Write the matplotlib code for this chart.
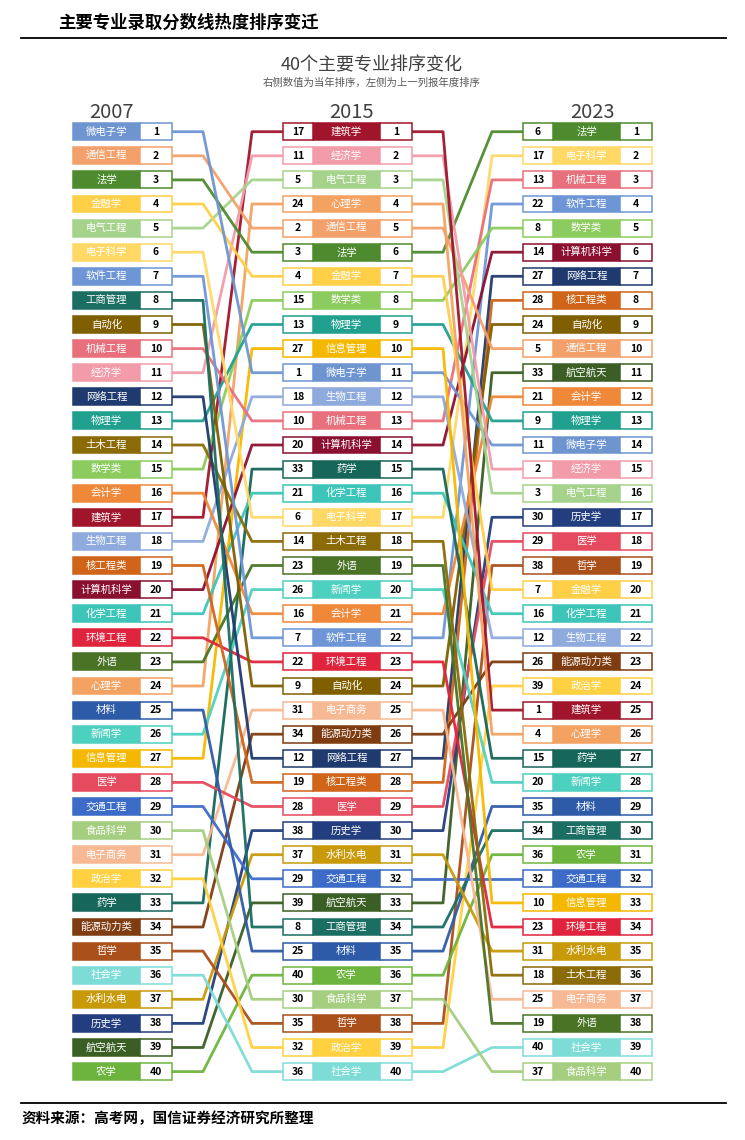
import matplotlib
matplotlib.use("Agg")
import matplotlib.pyplot as plt
from matplotlib.patches import Rectangle

plt.rcParams['font.family'] = ['Noto Sans CJK SC', 'DejaVu Sans']

years = ["2007", "2015", "2023"]

# majors listed in rank order (rank 1 first)
majors_2007 = ["微电子学", "通信工程", "法学", "金融学", "电气工程", "电子科学", "软件工程", "工商管理",
               "自动化", "机械工程", "经济学", "网络工程", "物理学", "土木工程", "数学类", "会计学",
               "建筑学", "生物工程", "核工程类", "计算机科学", "化学工程", "环境工程", "外语", "心理学",
               "材料", "新闻学", "信息管理", "医学", "交通工程", "食品科学", "电子商务", "政治学",
               "药学", "能源动力类", "哲学", "社会学", "水利水电", "历史学", "航空航天", "农学"]
majors_2015 = ["建筑学", "经济学", "电气工程", "心理学", "通信工程", "法学", "金融学", "数学类",
               "物理学", "信息管理", "微电子学", "生物工程", "机械工程", "计算机科学", "药学", "化学工程",
               "电子科学", "土木工程", "外语", "新闻学", "会计学", "软件工程", "环境工程", "自动化",
               "电子商务", "能源动力类", "网络工程", "核工程类", "医学", "历史学", "水利水电", "交通工程",
               "航空航天", "工商管理", "材料", "农学", "食品科学", "哲学", "政治学", "社会学"]
majors_2023 = ["法学", "电子科学", "机械工程", "软件工程", "数学类", "计算机科学", "网络工程", "核工程类",
               "自动化", "通信工程", "航空航天", "会计学", "物理学", "微电子学", "经济学", "电气工程",
               "历史学", "医学", "哲学", "金融学", "化学工程", "生物工程", "能源动力类", "政治学",
               "建筑学", "心理学", "药学", "新闻学", "材料", "工商管理", "农学", "交通工程",
               "信息管理", "环境工程", "水利水电", "土木工程", "电子商务", "外语", "社会学", "食品科学"]

major_colors = {
    "微电子学": "#6F95D1", "通信工程": "#F3A06A", "法学": "#4E8A2E", "金融学": "#FFCF48",
    "电气工程": "#A6D38C", "电子科学": "#FFD866", "软件工程": "#6E96D6", "工商管理": "#1B6E62",
    "自动化": "#7F5F00", "机械工程": "#E8707C", "经济学": "#F29CAA", "网络工程": "#1F3A6E",
    "物理学": "#21A090", "土木工程": "#8B6A08", "数学类": "#8CCB5E", "会计学": "#F0883A",
    "建筑学": "#A0152B", "生物工程": "#8FAADC", "核工程类": "#D0651A", "计算机科学": "#8B1030",
    "化学工程": "#3CC5B8", "环境工程": "#E0243D", "外语": "#4A7326", "心理学": "#F4A262",
    "材料": "#2E5BA8", "新闻学": "#4ED0C0", "信息管理": "#F5B800", "医学": "#E64A5E",
    "交通工程": "#3D6CC8", "食品科学": "#A5CE80", "电子商务": "#F6B993", "政治学": "#FFD040",
    "药学": "#17665A", "能源动力类": "#7F3C10", "哲学": "#A9501B", "社会学": "#7DDCD6",
    "水利水电": "#C89A0A", "历史学": "#233E7E", "航空航天": "#3A5E23", "农学": "#6DB43E",
}

W, H = 745, 1140
fig = plt.figure(figsize=(W / 100, H / 100), dpi=100)

# page decorations in pixel coordinates
page = fig.add_axes([0, 0, 1, 1])
page.set_xlim(0, W)
page.set_ylim(H, 0)
page.axis('off')
page.plot([21, 726], [38, 38], color='black', lw=1.3)
page.plot([21, 726], [1103, 1103], color='black', lw=1.3)
page.text(58, 23, "主要专业录取分数线热度排序变迁", fontsize=12.5, fontweight='bold', va='center')
page.text(372, 65, "40个主要专业排序变化", ha='center', va='center', fontsize=13,
          color='#404040', fontweight='medium')
page.text(372, 83, "右侧数值为当年排序，左侧为上一列报年度排序", ha='center', va='center',
          fontsize=7.5, color='#595959')
page.text(22, 1118, "资料来源：高考网，国信证券经济研究所整理", fontsize=10.5,
          fontweight='bold', va='center')

# chart axes: x in pixels, y in rank
row0, step = 131.7, 24.1
top_px = row0 - step
bot_px = row0 + step * 40
ax = fig.add_axes([0, 1 - bot_px / H, 1, (bot_px - top_px) / H])
ax.set_xlim(0, W)
ax.set_ylim(41, 0)
ax.axis('off')

bh = 0.7
cols = [
    {"left": None, "name": (73, 140), "right": (140, 172), "label_x": 112},
    {"left": (283, 313), "name": (313, 380), "right": (380, 412), "label_x": 352},
    {"left": (523, 553), "name": (553, 620), "right": (620, 652), "label_x": 592},
]
columns = [majors_2007, majors_2015, majors_2023]


def num_box(x0, x1, y, txt, color):
    ax.add_patch(Rectangle((x0, y - bh / 2), x1 - x0, bh, facecolor='white',
                           edgecolor=color, lw=1.1, zorder=3))
    ax.text((x0 + x1) / 2, y, str(txt), ha='center', va='center', fontsize=7.5,
            fontweight='bold', color='black', zorder=4)


for ci, (majors, c) in enumerate(zip(columns, cols)):
    ax.text(c["label_x"], 0.2, years[ci], ha='center', va='center', fontsize=14.5,
            color='#404040', clip_on=False)
    for i, m in enumerate(majors):
        y = i + 1
        col = major_colors[m]
        x0, x1 = c["name"]
        ax.add_patch(Rectangle((x0, y - bh / 2), x1 - x0, bh, facecolor=col,
                               edgecolor=col, lw=1.1, zorder=3))
        ax.text((x0 + x1) / 2, y, m, ha='center', va='center', fontsize=7.5,
                color='white', zorder=4)
        num_box(*c["right"], y, y, col)
        if c["left"] is not None:
            prev = columns[ci - 1].index(m) + 1
            num_box(*c["left"], y, prev, col)

# connecting lines between columns
stub = 31
for ci in range(1, 3):
    xa = cols[ci - 1]["right"][1]
    xb = cols[ci]["left"][0]
    for i, m in enumerate(columns[ci]):
        y1 = columns[ci - 1].index(m) + 1
        y2 = i + 1
        ax.plot([xa, xa + stub, xb - stub, xb], [y1, y1, y2, y2],
                color=major_colors[m], lw=2.0, alpha=0.95, zorder=1,
                solid_joinstyle='round', solid_capstyle='butt')

fig.savefig("out.png", dpi=100)
